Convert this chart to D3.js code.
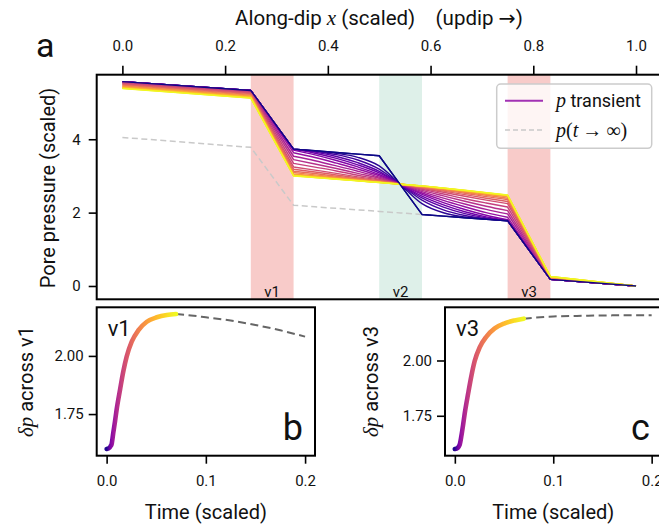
<!DOCTYPE html>
<html><head><meta charset="utf-8">
<script src="https://cdn.jsdelivr.net/npm/d3@7"></script>
<style>
body{margin:0;background:#fff;}
text{font-family:Roboto,"DejaVu Sans",sans-serif;fill:#111;}
.serif{font-family:"Liberation Serif","DejaVu Serif",serif;font-style:italic;}
</style></head><body>
<svg id="chart" width="659" height="526"></svg>
<script>
// ---------------- DATA ----------------
const xNodes = [0, 0.25, 0.3333, 0.375, 0.4167, 0.4583, 0.5, 0.5417, 0.5833, 0.625, 0.6667, 0.7083, 0.75, 0.8333, 1.0];
// transient pressure profiles, earliest first
const snapshots = [
 [5.570,5.330,3.730,3.685,3.640,3.595,3.550,2.750,1.950,1.905,1.860,1.820,1.780,0.180,0],
 [5.570,5.330,3.730,3.681,3.618,3.507,3.273,2.760,2.246,1.997,1.883,1.824,1.780,0.180,0],
 [5.570,5.330,3.729,3.670,3.582,3.434,3.185,2.762,2.340,2.073,1.920,1.835,1.781,0.180,0],
 [5.570,5.330,3.726,3.649,3.531,3.361,3.127,2.765,2.402,2.150,1.973,1.856,1.784,0.180,0],
 [5.570,5.330,3.723,3.619,3.479,3.303,3.083,2.766,2.449,2.211,2.025,1.885,1.787,0.180,0],
 [5.569,5.329,3.704,3.576,3.421,3.245,3.039,2.768,2.496,2.272,2.085,1.929,1.805,0.180,0],
 [5.566,5.326,3.633,3.503,3.348,3.186,3.003,2.769,2.535,2.333,2.160,2.001,1.873,0.182,0],
 [5.559,5.317,3.537,3.415,3.275,3.128,2.966,2.770,2.574,2.395,2.235,2.088,1.965,0.185,0],
 [5.547,5.305,3.445,3.327,3.202,3.069,2.937,2.771,2.605,2.456,2.310,2.175,2.053,0.190,0],
 [5.532,5.288,3.342,3.240,3.136,3.018,2.908,2.772,2.636,2.509,2.378,2.262,2.152,0.196,0],
 [5.513,5.267,3.245,3.159,3.071,2.975,2.886,2.773,2.660,2.555,2.445,2.342,2.245,0.204,0],
 [5.494,5.246,3.183,3.108,3.027,2.945,2.871,2.773,2.675,2.586,2.490,2.393,2.305,0.212,0],
 [5.475,5.225,3.129,3.065,2.990,2.923,2.857,2.774,2.691,2.609,2.528,2.436,2.357,0.220,0],
 [5.456,5.204,3.092,3.028,2.965,2.905,2.846,2.774,2.703,2.628,2.554,2.473,2.392,0.228,0],
 [5.437,5.183,3.053,2.999,2.943,2.891,2.838,2.774,2.711,2.643,2.576,2.502,2.430,0.236,0],
 [5.422,5.166,3.033,2.983,2.932,2.881,2.831,2.775,2.718,2.653,2.588,2.517,2.449,0.242,0],
 [5.407,5.149,3.019,2.971,2.923,2.875,2.827,2.775,2.722,2.660,2.597,2.529,2.462,0.249,0],
 [5.395,5.137,3.012,2.965,2.917,2.871,2.824,2.775,2.725,2.664,2.603,2.536,2.469,0.254,0],
 [5.386,5.126,3.004,2.959,2.913,2.867,2.822,2.775,2.728,2.668,2.607,2.541,2.477,0.258,0],
 [5.380,5.120,3.000,2.955,2.910,2.865,2.820,2.775,2.730,2.670,2.610,2.545,2.480,0.260,0]
];
const steadyState = [4.05,3.78,2.20,2.158,2.117,2.075,2.033,1.992,1.950,1.905,1.860,1.820,1.780,0.180,0];
const bandNames = ["v1", "v2", "v3"];
const bandStart = [0.25, 0.5, 0.75];
const bandEnd   = [0.3333, 0.5833, 0.8333];
const topTicks = [0, 0.2, 0.4, 0.6, 0.8, 1.0];
const pTicks = [0, 2, 4];

// delta p across v1 (panel b)
const timeB = [0,0.003,0.004,0.005,0.0067,0.0085,0.0101,0.0135,0.0168,0.0202,0.0253,0.0321,0.0405,0.0506,0.0607,0.07];
const dpB   = [1.600,1.606,1.612,1.620,1.669,1.720,1.769,1.854,1.933,1.997,2.061,2.111,2.147,2.166,2.176,2.180];
const timeBlate = [0.07,0.085,0.1,0.125,0.15,0.175,0.2];
const dpBlate   = [2.180,2.174,2.166,2.152,2.133,2.110,2.083];
// delta p across v3 (panel c)
const timeC = [0,0.003,0.004,0.005,0.0067,0.0085,0.0101,0.0135,0.0168,0.0202,0.0253,0.0321,0.0405,0.0506,0.0607,0.07];
const dpC   = [1.600,1.605,1.611,1.620,1.660,1.712,1.762,1.850,1.930,1.998,2.060,2.108,2.145,2.168,2.181,2.189];
const timeClate = [0.07,0.1,0.13,0.16,0.2];
const dpClate   = [2.189,2.199,2.202,2.204,2.205];
const timeTicks = [0, 0.1, 0.2];
const dpTicks = [1.75, 2.00];

// ---------------- DRAW ----------------
const svg = d3.select("#chart");
const defs = svg.append("defs");
const plasma = d3.interpolatePlasma;

// ---- panel a ----
const A = {l:96.7, r:661.7, t:74.7, b:299.3};
const x = d3.scaleLinear().domain([-0.05, 1.05]).range([A.l, A.r]);
const y = d3.scaleLinear().domain([-0.363, 5.76]).range([A.b, A.t]);

defs.append("clipPath").attr("id","clipA").append("rect")
  .attr("x",A.l).attr("y",A.t).attr("width",A.r-A.l).attr("height",A.b-A.t);

const gA = svg.append("g");
const bandFill = ["#f8cbc9", "#def0e9", "#f8cbc9"];
bandNames.forEach((nm,i)=>{
  gA.append("rect").attr("x",x(bandStart[i])).attr("y",A.t)
    .attr("width",x(bandEnd[i])-x(bandStart[i])).attr("height",A.b-A.t)
    .attr("fill",bandFill[i]);
  gA.append("text").attr("x",(x(bandStart[i])+x(bandEnd[i]))/2).attr("y",A.b-2)
    .attr("text-anchor","middle").attr("font-size",15).attr("fill","#222").text(nm);
});

// profile path: straight outside / across v1, v3; smooth between them
function profilePath(vals, smooth){
  const pts = xNodes.map((xv,i)=>[x(xv), y(vals[i])]);
  const lin = d3.line();
  const mid = d3.line().curve(smooth ? d3.curveMonotoneX : d3.curveLinear);
  return lin(pts.slice(0,3)) + mid(pts.slice(2,13)).replace(/^M/,"L") + lin(pts.slice(12)).replace(/^M/,"L");
}
const gL = gA.append("g").attr("clip-path","url(#clipA)");
gL.append("path").attr("d", profilePath(steadyState,false))
  .attr("fill","none").attr("stroke","#c9c9c9").attr("stroke-width",1.5).attr("stroke-dasharray","6,3.5");
const n = snapshots.length;
snapshots.forEach((s,k)=>{
  gL.append("path").attr("d",profilePath(s, k>0)).attr("fill","none")
    .attr("stroke",plasma(k/(n-1))).attr("stroke-width",1.4).attr("stroke-linejoin","round");
});
// the initial profile stays visible on top
gL.append("path").attr("d",profilePath(snapshots[0], false)).attr("fill","none")
  .attr("stroke",plasma(0)).attr("stroke-width",1.4).attr("stroke-linejoin","round");

// axes
const axTop = d3.axisTop(x).tickValues(topTicks).tickFormat(d3.format(".1f")).tickSize(9).tickPadding(15);
const gx = svg.append("g").attr("transform",`translate(0,${A.t})`).call(axTop);
const axL = d3.axisLeft(y).tickValues(pTicks).tickFormat(d3.format("d")).tickSize(8).tickPadding(8);
const gy = svg.append("g").attr("transform",`translate(${A.l},0)`).call(axL);
[gx,gy].forEach(g=>{
  g.select(".domain").remove();
  g.selectAll(".tick line").attr("stroke","#000").attr("stroke-width",1.6);
  g.selectAll(".tick text").attr("font-size",15).attr("font-family","Roboto").attr("fill","#111");
});

// frame
svg.append("rect").attr("x",A.l).attr("y",A.t).attr("width",A.r-A.l).attr("height",A.b-A.t)
  .attr("fill","none").attr("stroke","#000").attr("stroke-width",2);

// labels
const tt = svg.append("text").attr("x",379).attr("y",25).attr("text-anchor","middle").attr("font-size",20.5);
tt.append("tspan").text("Along-dip ");
tt.append("tspan").attr("class","serif").attr("font-size",21).text("x");
tt.append("tspan").text(" (scaled)\u00a0\u00a0\u00a0\u00a0(updip \u2192)");
svg.append("text").attr("x",36).attr("y",57).attr("font-size",34).text("a");
svg.append("text").attr("transform","translate(55,188) rotate(-90)").attr("text-anchor","middle")
  .attr("font-size",20).text("Pore pressure (scaled)");

// legend
const lg = svg.append("g");
lg.append("rect").attr("x",496.7).attr("y",84).attr("width",155).attr("height",64.3).attr("rx",4)
  .attr("fill","#fff").attr("fill-opacity",0.8).attr("stroke","#cccccc").attr("stroke-width",1.5);
lg.append("line").attr("x1",505).attr("x2",543).attr("y1",100.7).attr("y2",100.7)
  .attr("stroke","#a232b4").attr("stroke-width",2);
lg.append("line").attr("x1",505).attr("x2",543).attr("y1",130).attr("y2",130)
  .attr("stroke","#c9c9c9").attr("stroke-width",1.5).attr("stroke-dasharray","5,3");
const l1 = lg.append("text").attr("x",556).attr("y",107).attr("font-size",18);
l1.append("tspan").attr("class","serif").attr("font-size",20).text("p");
l1.append("tspan").text(" transient");
const l2 = lg.append("text").attr("x",556).attr("y",137).attr("font-size",20).attr("class","serif").style("font-style","normal");
l2.append("tspan").style("font-style","italic").text("p");
l2.append("tspan").text("(");
l2.append("tspan").style("font-style","italic").text("t");
l2.append("tspan").text("\u2009\u2192\u2009\u221e)");

// ---- bottom panels ----
function panel(P, times, vals, timesLate, valsLate, yDom, name, letter, yl, gid){
  const xs = d3.scaleLinear().domain([-0.01,0.21]).range([P.l,P.r]);
  const ys = d3.scaleLinear().domain(yDom).range([P.b,P.t]);
  const cid = "clip"+gid;
  defs.append("clipPath").attr("id",cid).append("rect")
    .attr("x",P.l).attr("y",P.t).attr("width",P.r-P.l).attr("height",P.b-P.t);
  const gr = defs.append("linearGradient").attr("id","grad"+gid).attr("gradientUnits","userSpaceOnUse")
    .attr("x1",xs(0)).attr("x2",xs(0.07)).attr("y1",0).attr("y2",0);
  d3.range(0,1.0001,0.05).forEach(o=>{
    gr.append("stop").attr("offset",o).attr("stop-color",plasma(Math.sqrt(o)*0.97+0.03));
  });
  const g = svg.append("g");
  const ln = d3.line().x((d,i)=>xs(d[0])).y(d=>ys(d[1])).curve(d3.curveMonotoneX);
  const gc = g.append("g").attr("clip-path",`url(#${cid})`);
  gc.append("path").attr("d",ln(d3.zip(timesLate,valsLate))).attr("fill","none")
    .attr("stroke","#666").attr("stroke-width",2).attr("stroke-dasharray","8,4.5");
  gc.append("path").attr("d",ln(d3.zip(times,vals))).attr("fill","none")
    .attr("stroke",`url(#grad${gid})`).attr("stroke-width",4.6).attr("stroke-linecap","round");
  const ax = g.append("g").attr("transform",`translate(0,${P.b})`)
    .call(d3.axisBottom(xs).tickValues(timeTicks).tickFormat(d3.format(".1f")).tickSize(8).tickPadding(12));
  const ay = g.append("g").attr("transform",`translate(${P.l},0)`)
    .call(d3.axisLeft(ys).tickValues(dpTicks).tickFormat(d3.format(".2f")).tickSize(8).tickPadding(5));
  [ax,ay].forEach(a=>{
    a.select(".domain").remove();
    a.selectAll(".tick line").attr("stroke","#000").attr("stroke-width",1.6);
    a.selectAll(".tick text").attr("font-size",15).attr("font-family","Roboto").attr("fill","#111");
  });
  g.append("rect").attr("x",P.l).attr("y",P.t).attr("width",P.r-P.l).attr("height",P.b-P.t)
    .attr("fill","none").attr("stroke","#000").attr("stroke-width",2);
  g.append("text").attr("x",P.l+11).attr("y",P.t+29).attr("font-size",22).text(name);
  g.append("text").attr("x",P.l+186).attr("y",P.b-16).attr("font-size",36).text(letter);
  const t = g.append("text").attr("transform",`translate(${yl},${(P.t+P.b)/2}) rotate(-90)`)
    .attr("text-anchor","middle").attr("font-size",20);
  t.append("tspan").attr("class","serif").attr("font-size",21).text("\u03b4p");
  t.append("tspan").text(" across "+name);
  g.append("text").attr("x",(P.l+P.r)/2).attr("y",519)
    .attr("text-anchor","middle").attr("font-size",20).text("Time (scaled)");
}
panel({l:96.7,r:315,t:307.3,b:455.7}, timeB, dpB, timeBlate, dpBlate, [1.571,2.209], "v1", "b", 33, "B");
panel({l:445,r:661.5,t:307.3,b:455.7}, timeC, dpC, timeClate, dpClate, [1.5695,2.2405], "v3", "c", 378, "C");
</script>
</body></html>
